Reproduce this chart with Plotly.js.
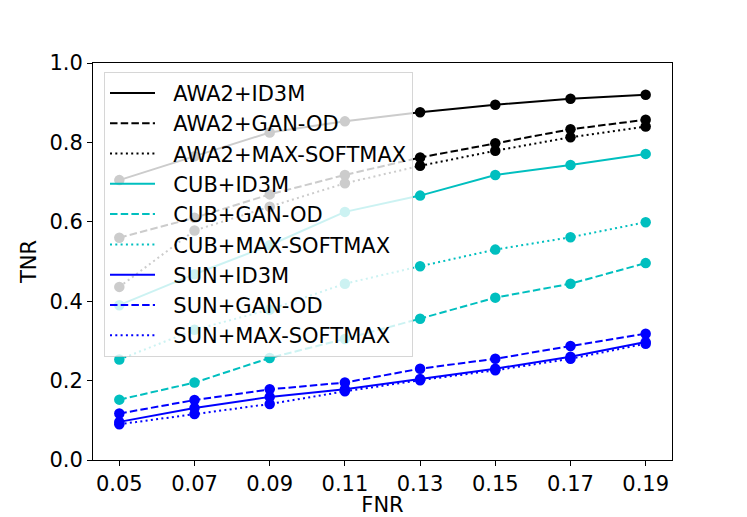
<!DOCTYPE html>
<html>
<head>
<meta charset="utf-8">
<script src="https://cdn.plot.ly/plotly-3.0.1.min.js"></script>
<style>
  html, body { margin: 0; padding: 0; background: #fff; }
  #chart { width: 747px; height: 517px; }
</style>
</head>
<body>
<div id="chart"></div>
<script>
const fnr = [0.05, 0.07, 0.09, 0.11, 0.13, 0.15, 0.17, 0.19];
const fnrLabels = ["0.05", "0.07", "0.09", "0.11", "0.13", "0.15", "0.17", "0.19"];

const awa2Id3m = [0.705, 0.765, 0.825, 0.853, 0.876, 0.895, 0.910, 0.920];
const awa2GanOd = [0.560, 0.610, 0.669, 0.718, 0.762, 0.798, 0.833, 0.857];
const awa2MaxSoftmax = [0.436, 0.578, 0.638, 0.697, 0.741, 0.779, 0.813, 0.840];

const cubId3m = [0.390, 0.468, 0.541, 0.625, 0.666, 0.718, 0.743, 0.771];
const cubGanOd = [0.152, 0.195, 0.257, 0.305, 0.356, 0.409, 0.444, 0.496];
const cubMaxSoftmax = [0.253, 0.328, 0.379, 0.444, 0.488, 0.530, 0.561, 0.599];

const sunId3m = [0.096, 0.131, 0.159, 0.178, 0.204, 0.230, 0.260, 0.297];
const sunGanOd = [0.117, 0.151, 0.178, 0.195, 0.230, 0.255, 0.287, 0.318];
const sunMaxSoftmax = [0.090, 0.116, 0.141, 0.173, 0.201, 0.226, 0.255, 0.293];

const BLACK = "#000000";
const CYAN = "#00bfbf";
const BLUE = "#0000ff";
const DASH = "7.5px,3.2px";
const DOT = "2px,3.3px";

const series = [
  { name: "AWA2+ID3M", y: awa2Id3m, color: BLACK, dash: "solid" },
  { name: "AWA2+GAN-OD", y: awa2GanOd, color: BLACK, dash: DASH },
  { name: "AWA2+MAX-SOFTMAX", y: awa2MaxSoftmax, color: BLACK, dash: DOT },
  { name: "CUB+ID3M", y: cubId3m, color: CYAN, dash: "solid" },
  { name: "CUB+GAN-OD", y: cubGanOd, color: CYAN, dash: DASH },
  { name: "CUB+MAX-SOFTMAX", y: cubMaxSoftmax, color: CYAN, dash: DOT },
  { name: "SUN+ID3M", y: sunId3m, color: BLUE, dash: "solid" },
  { name: "SUN+GAN-OD", y: sunGanOd, color: BLUE, dash: DASH },
  { name: "SUN+MAX-SOFTMAX", y: sunMaxSoftmax, color: BLUE, dash: DOT },
];

const font = { family: "DejaVu Sans, sans-serif", size: 21, color: "#000" };

const traces = [];
// data lines with markers (no legend entry)
series.forEach((s) => {
  traces.push({
    x: fnr,
    y: s.y,
    type: "scatter",
    mode: "lines+markers",
    showlegend: false,
    hoverinfo: "skip",
    line: { color: s.color, width: 2, dash: s.dash },
    marker: { color: s.color, size: 10.5 },
  });
});
// legend entries: line sample only, like matplotlib's legend
series.forEach((s, i) => {
  traces.push({
    x: [null],
    y: [null],
    type: "scatter",
    mode: "lines",
    name: "\u00a0\u00a0" + s.name,
    legendgroup: "g" + i,
    line: { color: s.color, width: 2, dash: s.dash },
  });
});

const layout = {
  width: 747,
  height: 517,
  margin: { l: 93, r: 75, t: 63, b: 57 },
  paper_bgcolor: "#ffffff",
  plot_bgcolor: "#ffffff",
  font,
  showlegend: true,
  legend: {
    x: 0.019,
    y: 0.978,
    xanchor: "left",
    yanchor: "top",
    bgcolor: "rgba(255,255,255,0.8)",
    bordercolor: "rgba(204,204,204,0.8)",
    borderwidth: 1,
    font,
    itemwidth: 45,
    tracegroupgap: 0,
    traceorder: "grouped",
  },
  xaxis: {
    range: [0.043, 0.197],
    tickvals: fnr,
    ticktext: fnrLabels,
    ticks: "outside",
    ticklen: 5,
    tickcolor: "#000",
    showgrid: false,
    zeroline: false,
    showline: true,
    linecolor: "#000",
    linewidth: 1,
    mirror: true,
    title: { text: "FNR", font, standoff: 4 },
  },
  yaxis: {
    range: [0, 1],
    dtick: 0.2,
    tick0: 0,
    tickformat: ".1f",
    ticks: "outside",
    ticklen: 5,
    tickcolor: "#000",
    showgrid: false,
    zeroline: false,
    showline: true,
    linecolor: "#000",
    linewidth: 1,
    mirror: true,
    title: { text: "TNR", font, standoff: 7 },
  },
};

Plotly.newPlot("chart", traces, layout, { displayModeBar: false, staticPlot: true });
</script>
</body>
</html>
